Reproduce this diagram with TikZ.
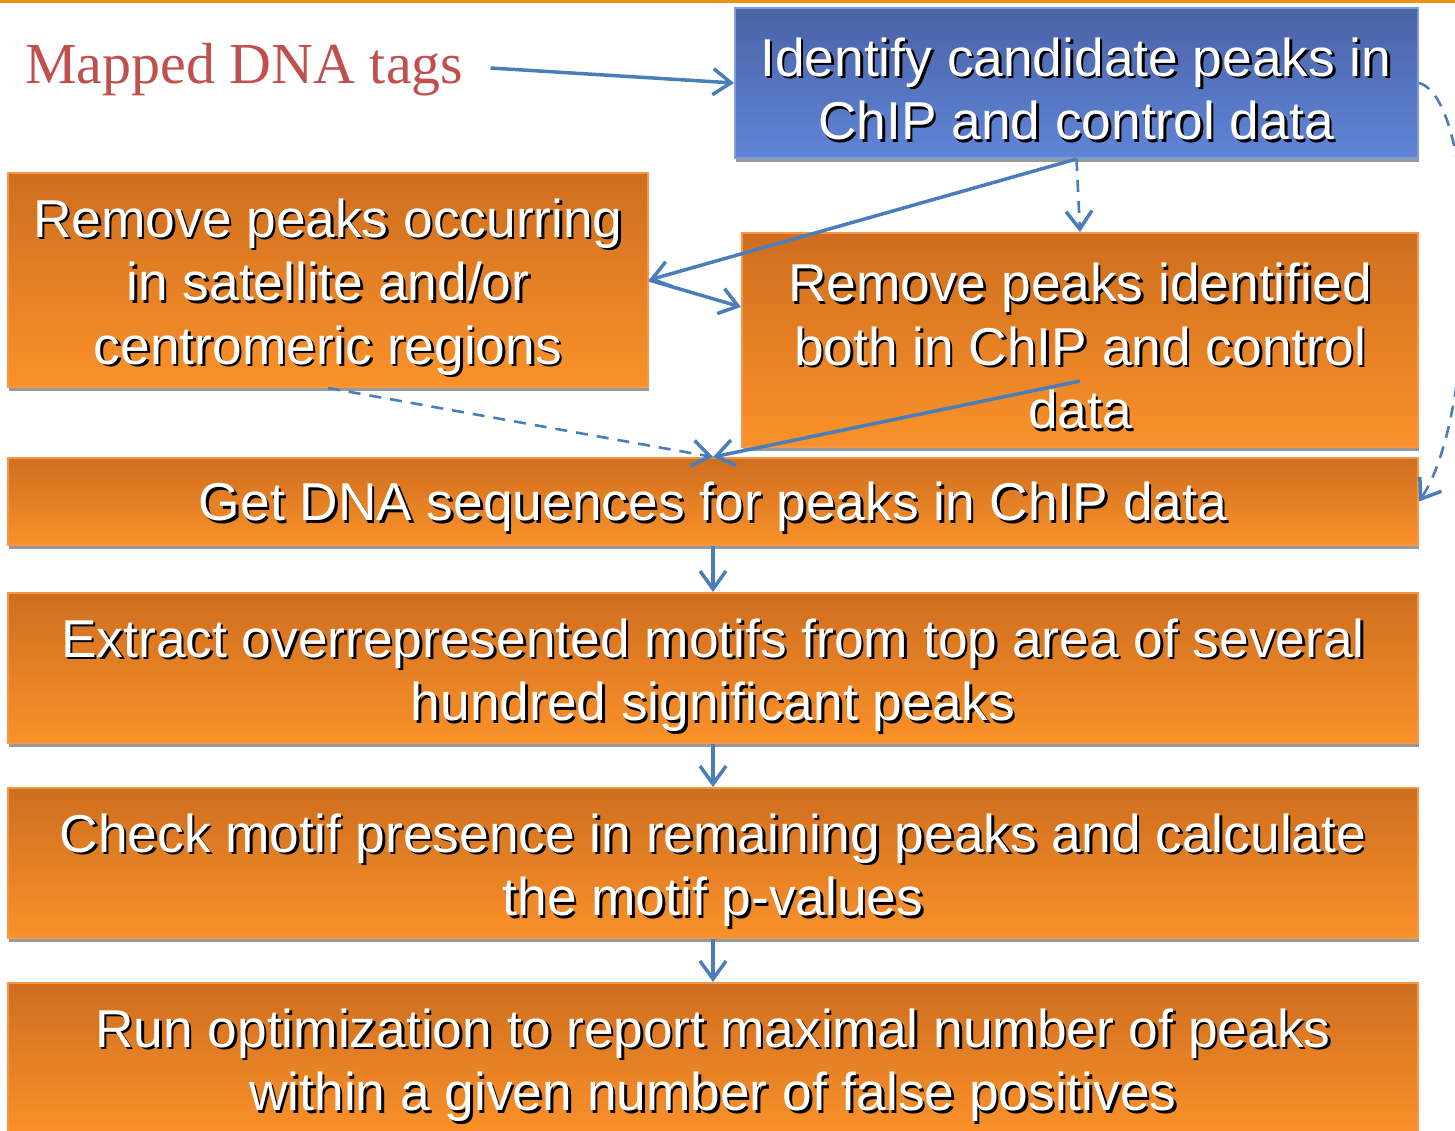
\documentclass[tikz,border=0pt]{standalone}
\usepackage{fontspec}
\setmainfont{Liberation Sans}
\newfontfamily\labelserif{Liberation Serif}
\usetikzlibrary{arrows.meta,shadows,calc}

\definecolor{ortop}{HTML}{CE6E1F}
\definecolor{orbot}{HTML}{FA9129}
\definecolor{orbord}{HTML}{F79646}
\definecolor{bltop}{HTML}{4A62A6}
\definecolor{blbot}{HTML}{5F85D8}
\definecolor{blbord}{HTML}{7F9BD8}
\definecolor{flow}{HTML}{4A7EBB}
\definecolor{titlered}{HTML}{C0504D}
\definecolor{rule}{HTML}{F0900F}

\newcommand\boxtext[3]{%
  \node[txs] (#1s) at ($(#2)+(2.5,2.5)$) {#3};
  \node[txt] (#1) at (#2) {#3};}

\begin{document}
\begin{tikzpicture}[x=1pt,y=-1pt,
  panel/.style={line width=2pt, drop shadow={shadow xshift=1pt, shadow yshift=-4pt, fill=black!40, opacity=1}},
  obox/.style={panel, draw=orbord, top color=ortop, bottom color=orbot},
  bbox/.style={panel, draw=blbord, top color=bltop, bottom color=blbot},
  txt/.style={text=white, align=center, inner sep=0pt, font=\fontsize{53.3}{63.5}\selectfont},
  txs/.style={txt, text=black},
  arr/.style={draw=flow, line width=3.5pt, -{Straight Barb[length=18pt,width=26pt,line width=3.5pt]}},
  darr/.style={arr, line width=2.6pt, dash pattern=on 12pt off 9pt}]
\useasboundingbox (0,0) rectangle (1455,1130);

% rule along the top edge
\fill[rule] (0,0) rectangle (1455,3);

% boxes
\node[bbox, minimum width=683pt, minimum height=150pt] (blue) at (1076.5,83) {};
\node[obox, minimum width=640pt, minimum height=214pt] (left) at (328,280) {};
\node[obox, minimum width=676pt, minimum height=214pt] (right) at (1080,340) {};
\node[obox, minimum width=1410pt, minimum height=87pt] (get) at (713,501.5) {};
\node[obox, minimum width=1410pt, minimum height=150pt] (ext) at (713,668) {};
\node[obox, minimum width=1410pt, minimum height=150pt] (chk) at (713,863) {};
\node[obox, minimum width=1410pt, minimum height=150pt] (run) at (713,1058) {};

% box texts
\boxtext{tblue}{1076,89}{Identify candidate peaks in\\ChIP and control data}
\boxtext{tleft}{328,287}{Remove peaks occurring\\in satellite and/or\\centromeric regions}
\boxtext{tright}{1080,346}{Remove peaks identified\\both in ChIP and control\\data}
\boxtext{tget}{713,507}{Get DNA sequences for peaks in ChIP data}
\boxtext{text}{713,675}{Extract overrepresented motifs from top area of several\\hundred significant peaks}
\boxtext{tchk}{713,870}{Check motif presence in remaining peaks and calculate\\the motif p-values}
\boxtext{trun}{713,1065}{Run optimization to report maximal number of peaks\\within a given number of false positives}

% input label
\node[anchor=west, inner sep=0pt, text=titlered, font=\labelserif\fontsize{58}{66}\selectfont] (tags) at (25,70) {Mapped DNA tags};

% connectors
\coordinate (tagsout) at ($(tags.east)+(27,-2)$);
\draw[arr] (tagsout) -- (blue.west);
\draw[arr] (blue.south) -- (left.east);
\draw[arr] (left.east) -- ($(right.west)+(0,-33)$);
\draw[darr] (blue.south) -- (right.north);
\draw[darr] (left.south) -- (get.north);
\coordinate (rstart) at ($(right.center)+(0,41)$);
\draw[arr] (rstart) -- (get.north);
\draw[darr] (blue.east) .. controls (1480,100) and (1480,410) .. (get.east);
\draw[arr] (get.south) -- (ext.north);
\draw[arr] (ext.south) -- (chk.north);
\draw[arr] (chk.south) -- (run.north);
\end{tikzpicture}
\end{document}
